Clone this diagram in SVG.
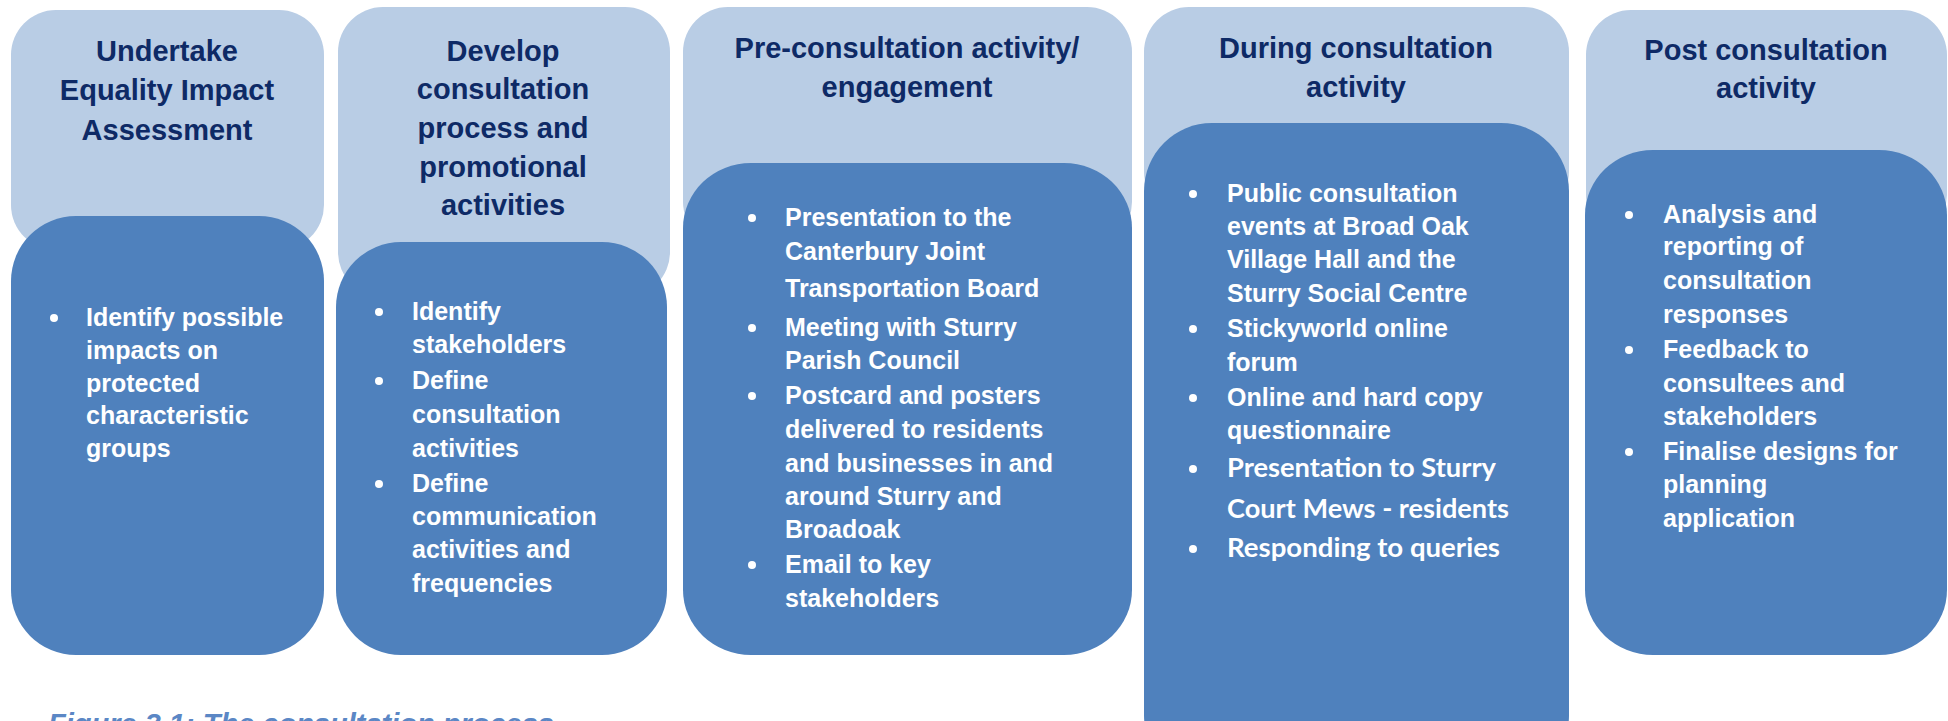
<svg xmlns="http://www.w3.org/2000/svg" width="1948" height="721" viewBox="0 0 1948 721">
<style>
.light{fill:#B9CDE5}
.dark{fill:#4F81BD}
.hd{font-family:"Liberation Sans",Arial,sans-serif;font-weight:bold;font-size:29px;fill:#0E2A66;text-anchor:middle}
.bd{font-family:"Liberation Sans",Arial,sans-serif;font-weight:bold;font-size:25px;fill:#FFFFFF}
.cb{font-family:Lato,"Open Sans",sans-serif;font-weight:bold;font-size:26px;fill:#FFFFFF}
.cap{font-family:"Liberation Sans",Arial,sans-serif;font-weight:bold;font-style:italic;font-size:29px;fill:#5B87C5}
.dot{fill:#FFFFFF}
</style>
<rect width="1948" height="721" fill="#FFFFFF"/>
<g id="connectors"/>

<g id="node1">
<rect class="light" x="11" y="10" width="313" height="240" rx="45" ry="45"/>
<text class="hd" x="167" y="61">Undertake</text>
<text class="hd" x="167" y="100">Equality Impact</text>
<text class="hd" x="167" y="140">Assessment</text>
<rect class="dark" x="11" y="216" width="313" height="439" rx="65" ry="65"/>
<circle class="dot" cx="54" cy="318" r="4"/>
<text class="bd" x="86" y="326">Identify possible</text>
<text class="bd" x="86" y="359">impacts on</text>
<text class="bd" x="86" y="392">protected</text>
<text class="bd" x="86" y="424">characteristic</text>
<text class="bd" x="86" y="457">groups</text>
</g>

<g id="node2">
<rect class="light" x="338" y="7" width="332" height="290" rx="45" ry="45"/>
<text class="hd" x="503" y="61">Develop</text>
<text class="hd" x="503" y="99">consultation</text>
<text class="hd" x="503" y="138">process and</text>
<text class="hd" x="503" y="177">promotional</text>
<text class="hd" x="503" y="215">activities</text>
<rect class="dark" x="336" y="242" width="331" height="413" rx="65" ry="65"/>
<circle class="dot" cx="379" cy="312" r="4"/>
<text class="bd" x="412" y="320">Identify</text>
<text class="bd" x="412" y="353">stakeholders</text>
<circle class="dot" cx="379" cy="381" r="4"/>
<text class="bd" x="412" y="389">Define</text>
<text class="bd" x="412" y="423">consultation</text>
<text class="bd" x="412" y="457">activities</text>
<circle class="dot" cx="379" cy="484" r="4"/>
<text class="bd" x="412" y="492">Define</text>
<text class="bd" x="412" y="525">communication</text>
<text class="bd" x="412" y="558">activities and</text>
<text class="bd" x="412" y="592">frequencies</text>
</g>

<g id="node3">
<rect class="light" x="683" y="7" width="449" height="240" rx="45" ry="45"/>
<text class="hd" x="907" y="58">Pre-consultation activity/</text>
<text class="hd" x="907" y="97">engagement</text>
<rect class="dark" x="683" y="163" width="449" height="492" rx="68" ry="65"/>
<circle class="dot" cx="752" cy="218" r="4"/>
<text class="bd" x="785" y="226">Presentation to the</text>
<text class="bd" x="785" y="260">Canterbury Joint</text>
<text class="bd" x="785" y="297">Transportation Board</text>
<circle class="dot" cx="752" cy="328" r="4"/>
<text class="bd" x="785" y="336">Meeting with Sturry</text>
<text class="bd" x="785" y="369">Parish Council</text>
<circle class="dot" cx="752" cy="396" r="4"/>
<text class="bd" x="785" y="404">Postcard and posters</text>
<text class="bd" x="785" y="438">delivered to residents</text>
<text class="bd" x="785" y="472">and businesses in and</text>
<text class="bd" x="785" y="505">around Sturry and</text>
<text class="bd" x="785" y="538">Broadoak</text>
<circle class="dot" cx="752" cy="565" r="4"/>
<text class="bd" x="785" y="573">Email to key</text>
<text class="bd" x="785" y="607">stakeholders</text>
</g>

<g id="node4">
<rect class="light" x="1144" y="7" width="425" height="210" rx="45" ry="45"/>
<text class="hd" x="1356" y="58">During consultation</text>
<text class="hd" x="1356" y="97">activity</text>
<rect class="dark" x="1144" y="123" width="425" height="660" rx="68" ry="68"/>
<circle class="dot" cx="1193" cy="194" r="4"/>
<text class="bd" x="1227" y="202">Public consultation</text>
<text class="bd" x="1227" y="235">events at Broad Oak</text>
<text class="bd" x="1227" y="268">Village Hall and the</text>
<text class="bd" x="1227" y="302">Sturry Social Centre</text>
<circle class="dot" cx="1193" cy="329" r="4"/>
<text class="bd" x="1227" y="337">Stickyworld online</text>
<text class="bd" x="1227" y="371">forum</text>
<circle class="dot" cx="1193" cy="398" r="4"/>
<text class="bd" x="1227" y="406">Online and hard copy</text>
<text class="bd" x="1227" y="439">questionnaire</text>
<circle class="dot" cx="1193" cy="469" r="4"/>
<text class="cb" x="1227" y="477" textLength="269" lengthAdjust="spacingAndGlyphs">Presentation to Sturry</text>
<text class="cb" x="1227" y="518" textLength="282" lengthAdjust="spacingAndGlyphs">Court Mews - residents</text>
<circle class="dot" cx="1193" cy="549" r="4"/>
<text class="cb" x="1227" y="557" textLength="273" lengthAdjust="spacingAndGlyphs">Responding to queries</text>
</g>

<g id="node5">
<rect class="light" x="1586" y="10" width="361" height="230" rx="45" ry="45"/>
<text class="hd" x="1766" y="60">Post consultation</text>
<text class="hd" x="1766" y="98">activity</text>
<rect class="dark" x="1585" y="150" width="362" height="505" rx="68" ry="65"/>
<circle class="dot" cx="1629" cy="215" r="4"/>
<text class="bd" x="1663" y="223">Analysis and</text>
<text class="bd" x="1663" y="255">reporting of</text>
<text class="bd" x="1663" y="289">consultation</text>
<text class="bd" x="1663" y="323">responses</text>
<circle class="dot" cx="1629" cy="350" r="4"/>
<text class="bd" x="1663" y="358">Feedback to</text>
<text class="bd" x="1663" y="392">consultees and</text>
<text class="bd" x="1663" y="425">stakeholders</text>
<circle class="dot" cx="1629" cy="452" r="4"/>
<text class="bd" x="1663" y="460">Finalise designs for</text>
<text class="bd" x="1663" y="493">planning</text>
<text class="bd" x="1663" y="527">application</text>
</g>

<g id="caption">
<text class="cap" x="48" y="734">Figure 3.1: The consultation process</text>
</g>
</svg>
